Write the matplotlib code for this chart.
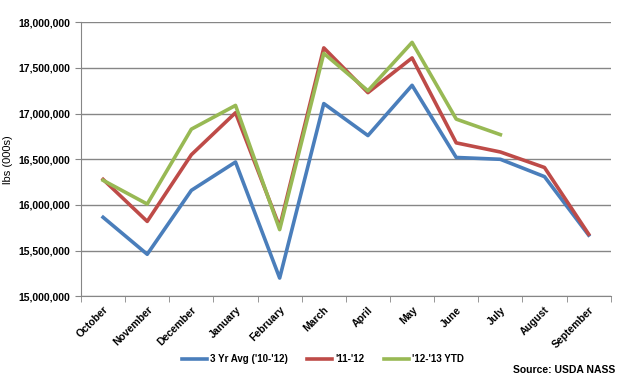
import matplotlib
matplotlib.use("Agg")
import matplotlib.pyplot as plt
import numpy as np

months = ["October", "November", "December", "January", "February", "March",
          "April", "May", "June", "July", "August", "September"]
avg_3yr = [15865000, 15460000, 16160000, 16470000, 15200000, 17110000,
           16760000, 17310000, 16520000, 16500000, 16310000, 15670000]
y_11_12 = [16280000, 15820000, 16550000, 17010000, 15760000, 17720000,
           17230000, 17610000, 16680000, 16580000, 16410000, 15680000]
y_12_13 = [16270000, 16010000, 16830000, 17090000, 15730000, 17660000,
           17250000, 17780000, 16940000, 16770000]

plt.rcParams['font.family'] = ['Liberation Sans', 'DejaVu Sans']

fig = plt.figure(figsize=(6.28, 3.81), dpi=100)
ax = fig.add_axes([0.129, 0.2223, 0.8435, 0.7192])

x = np.arange(len(months))
ax.plot(x, avg_3yr, color='#4A7EBB', lw=2.6, label="3 Yr Avg ('10-'12)", zorder=3)
ax.plot(x, y_11_12, color='#BE4B48', lw=2.6, label="'11-'12", zorder=3)
ax.plot(np.arange(len(y_12_13)), y_12_13, color='#98B954', lw=2.6, label="'12-'13 YTD", zorder=4)

ax.set_xlim(-0.5, len(months) - 0.5)
ax.set_ylim(15000000, 18000000)
ax.set_yticks(np.arange(15000000, 18000001, 500000))
ax.set_yticklabels(['{:,}'.format(v) for v in range(15000000, 18000001, 500000)],
                   fontsize=7.5, fontweight='bold')
ax.yaxis.grid(True, color='#868686', lw=1)
ax.set_axisbelow(True)

ax.set_xticks(x)
ax.set_xticklabels(months, rotation=45, ha='right', rotation_mode='anchor',
                   fontsize=7.5, fontweight='bold')
ax.tick_params(axis='x', length=0, pad=6)
ax.set_xticks(np.arange(-0.5, len(months)), minor=True)
ax.tick_params(axis='x', which='minor', length=4, color='#868686')
ax.tick_params(axis='y', length=4, color='#868686')

for s in ['top', 'right']:
    ax.spines[s].set_visible(False)
for s in ['left', 'bottom']:
    ax.spines[s].set_color('#868686')

ax.set_ylabel('lbs (000s)', fontsize=8)

fig.legend(loc='center', bbox_to_anchor=(0.514, 0.057), ncol=3, frameon=False,
           prop={'weight': 'bold', 'size': 7}, handlelength=2.6, handletextpad=0.3,
           columnspacing=2.0)

fig.text(0.98, 0.015, 'Source: USDA NASS', ha='right', va='bottom', fontsize=7.5, fontweight='bold')

fig.savefig('out.png', dpi=100)
